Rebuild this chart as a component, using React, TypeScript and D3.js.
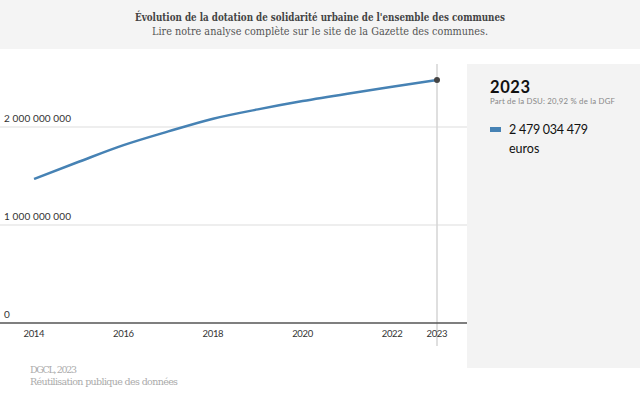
import * as d3 from 'd3';
import React from 'react';

const years = [2014, 2015, 2016, 2017, 2018, 2019, 2020, 2021, 2022, 2023];
const dsuValues = [1.47e9, 1.645e9, 1.815e9, 1.955e9, 2.085e9, 2.18e9, 2.265e9, 2.34e9, 2.41e9, 2479034479];
const xTicks = [2014, 2016, 2018, 2020, 2022, 2023];
const yTicks = [0, 1e9, 2e9];

const title = 'Évolution de la dotation de solidarité urbaine de l\'ensemble des communes';
const subtitle = 'Lire notre analyse complète sur le site de la Gazette des communes.';
const sourceLines = ['DGCL, 2023', 'Réutilisation publique des données'];

const width = 640;
const height = 399;
const lineColour = '#4682b4';

const fmt = (v: number) => d3.format(',')(v).replace(/,/g, ' ');

function App() {
    const x = d3.scaleLinear().domain([2014, 2023]).range([34, 437]);
    const y = d3.scaleLinear().domain([0, 1e9]).range([323, 225]);

    const points = years.map((yr, i) => ({ year: yr, value: dsuValues[i] }));
    const line = d3.line<{ year: number; value: number }>()
        .x(d => x(d.year))
        .y(d => y(d.value))
        .curve(d3.curveMonotoneX);

    const last = points[points.length - 1];
    const sans = 'Lato, "Open Sans", sans-serif';
    const serif = '"Roboto Slab", "DejaVu Serif", serif';

    return (
        <svg width={width} height={height} style={{ position: 'absolute', left: 0, top: 0 }}>
            <rect x={0} y={0} width={width} height={height} fill="#fff" />
            {/* header */}
            <rect x={0} y={0} width={width} height={49} fill="#f4f4f4" />
            <text x={320} y={21} textAnchor="middle" fontFamily={serif} fontWeight="bold"
                fontSize={11.5} fill="#444" textLength={370} lengthAdjust="spacingAndGlyphs">{title}</text>
            <text x={320} y={35} textAnchor="middle" fontFamily={serif}
                fontSize={11.5} fill="#555" textLength={336} lengthAdjust="spacingAndGlyphs">{subtitle}</text>

            {/* gridlines */}
            {yTicks.map(t => (
                <g key={t}>
                    {t > 0 && <line x1={0} x2={467} y1={y(t)} y2={y(t)} stroke="#ddd" strokeWidth={1} />}
                    <text x={4} y={y(t) - 5} fontFamily={sans} fontSize={10} fill="#333"
                        textLength={t > 0 ? 67 : undefined}>{fmt(t)}</text>
                </g>
            ))}

            {/* highlight line */}
            <line x1={x(last.year)} x2={x(last.year)} y1={64} y2={346} stroke="#d4d4d4" strokeWidth={1.5} />

            {/* x axis */}
            <line x1={0} x2={467} y1={y(0)} y2={y(0)} stroke="#555" strokeWidth={1.5} />
            {xTicks.map(t => (
                <text key={t} x={x(t)} y={337} textAnchor="middle" fontFamily={sans} fontSize={9.5}
                    fill="#333" textLength={21}>{t}</text>
            ))}

            <path d={line(points) || ''} fill="none" stroke={lineColour} strokeWidth={2.5} />
            <circle cx={x(last.year)} cy={y(last.value)} r={3} fill="#444" />

            {/* side panel */}
            <rect x={467} y={64} width={173} height={304} fill="#f3f3f3" />
            <text x={490} y={93} fontFamily={sans} fontWeight="bold" fontSize={16.5} fill="#111"
                textLength={40}>{last.year}</text>
            <text x={490} y={104} fontFamily={sans} fontSize={7.8} fill="#888"
                textLength={125}>Part de la DSU: 20,92 % de la DGF</text>
            <rect x={490} y={127} width={11} height={5} fill={lineColour} />
            <text x={509} y={134} fontFamily={sans} fontSize={12.5} fill="#111" textLength={79}>{fmt(last.value)}</text>
            <text x={509} y={153} fontFamily={sans} fontSize={12.5} fill="#111">euros</text>

            {/* source */}
            {sourceLines.map((s, i) => (
                <text key={s} x={30} y={373 + i * 12} fontFamily={serif} fontSize={9.5} fill="#aaa"
                    textLength={i === 0 ? 47 : 148}>{s}</text>
            ))}
        </svg>
    );
}

export default App;
